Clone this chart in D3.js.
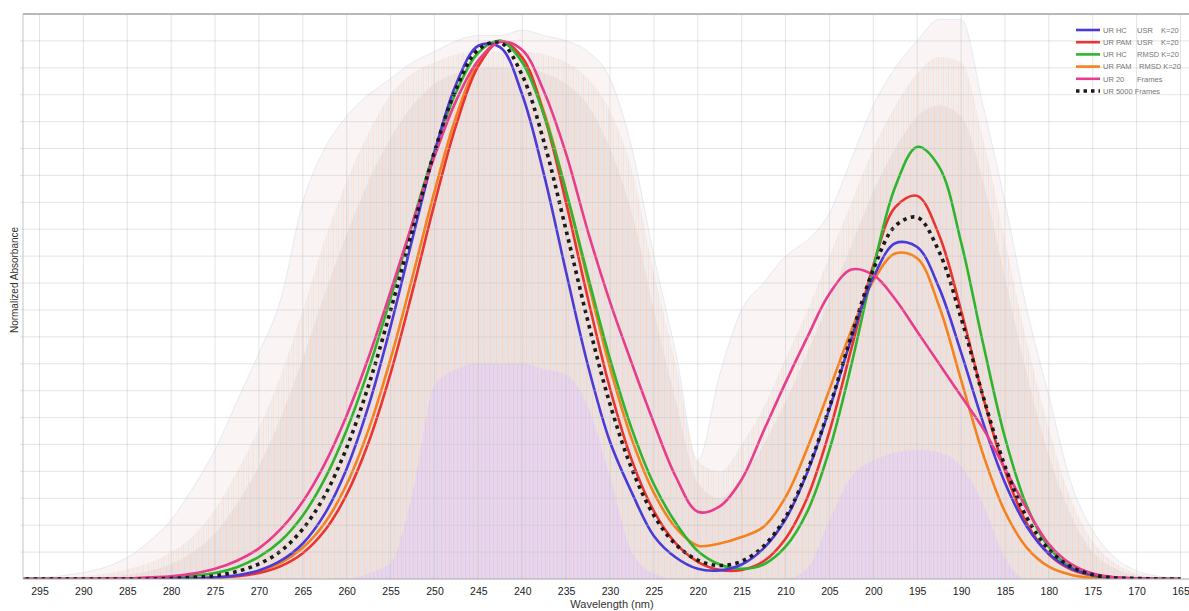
<!DOCTYPE html>
<html>
<head>
<meta charset="utf-8">
<script src="https://cdnjs.cloudflare.com/ajax/libs/d3/7.8.5/d3.min.js"></script>
<style>
body { margin: 0; background: #fff; }
text { font-family: Arial, "Liberation Sans", sans-serif; }
</style>
</head>
<body>
<div class="spectra"></div>
<script>
// wavelength grid (nm), every 2.5 nm
const wavelengths = [297.5, 295, 292.5, 290, 287.5, 285, 282.5, 280, 277.5, 275, 272.5, 270, 267.5, 265, 262.5, 260,
  257.5, 255, 252.5, 250, 247.5, 245, 242.5, 240, 237.5, 235, 232.5, 230, 227.5, 225, 222.5, 220, 217.5, 215, 212.5,
  210, 207.5, 205, 202.5, 200, 197.5, 195, 192.5, 190, 187.5, 185, 182.5, 180, 177.5, 175, 172.5, 170, 167.5, 165]

const urHcUsr = [0, 0, 0, 0, 0, 0, 0, 0.001, 0.001, 0.003, 0.007, 0.016, 0.034, 0.066, 0.121, 0.205, 0.322, 0.469, 0.633,
  0.793, 0.921, 0.991, 0.988, 0.90, 0.75, 0.57, 0.396, 0.255, 0.16, 0.08, 0.04, 0.019, 0.016, 0.027, 0.057, 0.111, 0.199,
  0.316, 0.447, 0.56, 0.624, 0.617, 0.541, 0.421, 0.291, 0.179, 0.097, 0.047, 0.020, 0.008, 0.003, 0.001, 0, 0]
const urPamUsr = [0, 0, 0, 0, 0, 0, 0, 0, 0.001, 0.002, 0.005, 0.011, 0.024, 0.048, 0.09, 0.157, 0.254, 0.382, 0.535,
  0.697, 0.845, 0.953, 0.999, 0.969, 0.861, 0.699, 0.52, 0.354, 0.22, 0.126, 0.066, 0.032, 0.017, 0.017, 0.033, 0.075,
  0.152, 0.274, 0.428, 0.583, 0.691, 0.712, 0.639, 0.499, 0.339, 0.201, 0.103, 0.046, 0.018, 0.006, 0.002, 0, 0, 0]
const urHcRmsd = [0, 0, 0, 0, 0, 0.001, 0.001, 0.003, 0.006, 0.011, 0.022, 0.041, 0.071, 0.118, 0.186, 0.277, 0.39, 0.522,
  0.662, 0.795, 0.906, 0.978, 1.0, 0.96, 0.861, 0.72, 0.562, 0.409, 0.278, 0.176, 0.104, 0.052, 0.027, 0.019, 0.027, 0.06,
  0.126, 0.24, 0.398, 0.577, 0.729, 0.803, 0.766, 0.626, 0.438, 0.263, 0.135, 0.059, 0.022, 0.007, 0.002, 0.001, 0, 0]
const urPamRmsd = [0, 0, 0, 0, 0, 0, 0, 0, 0.001, 0.003, 0.006, 0.014, 0.03, 0.058, 0.104, 0.176, 0.278, 0.409, 0.562,
  0.72, 0.861, 0.96, 1.0, 0.968, 0.867, 0.72, 0.553, 0.393, 0.259, 0.16, 0.095, 0.062, 0.066, 0.078, 0.097, 0.152, 0.244,
  0.352, 0.462, 0.554, 0.605, 0.596, 0.507, 0.37, 0.232, 0.125, 0.058, 0.023, 0.008, 0.002, 0.001, 0, 0, 0]
const ur20 = [0, 0, 0, 0, 0.001, 0.001, 0.003, 0.005, 0.01, 0.019, 0.034, 0.057, 0.093, 0.144, 0.214, 0.304, 0.412, 0.534,
  0.662, 0.785, 0.89, 0.964, 0.998, 0.983, 0.905, 0.79, 0.645, 0.515, 0.4, 0.29, 0.19, 0.125, 0.135, 0.185, 0.275, 0.365,
  0.45, 0.53, 0.575, 0.565, 0.52, 0.46, 0.40, 0.34, 0.28, 0.205, 0.13, 0.065, 0.028, 0.01, 0.003, 0.001, 0, 0]
const ur5000 = [0, 0, 0, 0, 0, 0, 0, 0.001, 0.003, 0.006, 0.014, 0.028, 0.052, 0.093, 0.155, 0.244, 0.36, 0.499, 0.649,
  0.794, 0.912, 0.984, 0.997, 0.936, 0.811, 0.648, 0.478, 0.325, 0.204, 0.118, 0.064, 0.035, 0.025, 0.033, 0.061, 0.115,
  0.202, 0.319, 0.452, 0.575, 0.656, 0.672, 0.608, 0.485, 0.34, 0.21, 0.114, 0.055, 0.023, 0.008, 0.002, 0.001, 0, 0]

// envelope of the 5000 single frames: faint outer edge, body and dense core
const framesOuter = [0, 0.002, 0.006, 0.012, 0.022, 0.04, 0.07, 0.11, 0.17, 0.24, 0.33, 0.42, 0.52, 0.7, 0.8, 0.86,
  0.9, 0.93, 0.96, 0.98, 1.0, 1.01, 1.01, 1.02, 1.01, 1.0, 0.98, 0.93, 0.8, 0.6, 0.42, 0.22, 0.38, 0.5, 0.55,
  0.6, 0.63, 0.68, 0.78, 0.88, 0.95, 1.0, 1.04, 1.04, 0.88, 0.7, 0.5, 0.34, 0.18, 0.09, 0.04, 0.015, 0.005, 0]
const framesBody = [0, 0, 0.002, 0.005, 0.01, 0.018, 0.03, 0.05, 0.08, 0.13, 0.2, 0.28, 0.38, 0.5, 0.63, 0.74,
  0.83, 0.9, 0.94, 0.96, 0.975, 0.98, 0.98, 0.98, 0.975, 0.96, 0.93, 0.87, 0.76, 0.57, 0.4, 0.22, 0.2, 0.25, 0.32,
  0.41, 0.5, 0.6, 0.7, 0.8, 0.88, 0.94, 0.97, 0.96, 0.82, 0.63, 0.44, 0.28, 0.15, 0.07, 0.03, 0.01, 0.003, 0]
const framesCore = [0, 0, 0, 0.002, 0.004, 0.008, 0.015, 0.028, 0.05, 0.085, 0.14, 0.21, 0.3, 0.41, 0.53, 0.64,
  0.74, 0.82, 0.88, 0.92, 0.94, 0.95, 0.95, 0.95, 0.94, 0.92, 0.88, 0.8, 0.68, 0.5, 0.33, 0.18, 0.15, 0.19, 0.25,
  0.33, 0.42, 0.52, 0.62, 0.72, 0.8, 0.86, 0.88, 0.86, 0.74, 0.56, 0.38, 0.23, 0.12, 0.05, 0.02, 0.006, 0.002, 0]
// top of the stick (transition) forest
const stickTops = [0, 0, 0, 0, 0, 0, 0, 0, 0, 0, 0, 0, 0, 0, 0, 0,
  0.01, 0.03, 0.16, 0.36, 0.39, 0.4, 0.4, 0.4, 0.39, 0.38, 0.32, 0.19, 0.05, 0.01, 0, 0, 0, 0, 0,
  0, 0.02, 0.11, 0.19, 0.22, 0.235, 0.24, 0.235, 0.21, 0.14, 0.04, 0, 0, 0, 0, 0, 0, 0, 0]

const tickLabels = [295, 290, 285, 280, 275, 270, 265, 260, 255, 250, 245, 240, 235, 230, 225, 220, 215, 210, 205,
  200, 195, 190, 185, 180, 175, 170, 165]
const gridLevels = [0.05, 0.1, 0.15, 0.2, 0.25, 0.3, 0.35, 0.4, 0.45, 0.5, 0.55, 0.6, 0.65, 0.7, 0.75, 0.8, 0.85, 0.9,
  0.95, 1.0]

const seriesNames = [["UR HC", "USR", "K=20"], ["UR PAM", "USR", "K=20"], ["UR HC", "RMSD K=20"],
  ["UR PAM", "RMSD K=20"], ["UR 20", "Frames"], ["UR 5000 Frames"]]
const seriesValues = [urHcUsr, urPamUsr, urHcRmsd, urPamRmsd, ur20, ur5000]
const seriesColours = ["#4a3ad8", "#ea3432", "#2fb42f", "#f4821f", "#e83c8c", "#1a1a1a"]

const W = 1189, H = 611
const plot = {left: 23, right: 1189, top: 14, bottom: 579}

const svg = d3.select(".spectra").append("svg").attr("width", W).attr("height", H)

const x = d3.scaleLinear().domain([295, 165]).range([39.5, 1180.5])
const y = d3.scaleLinear().domain([0, 1.05]).range([plot.bottom, plot.top])

const defs = svg.append("defs")
defs.append("clipPath").attr("id", "clip").append("rect")
    .attr("x", plot.left).attr("y", plot.top).attr("width", plot.right - plot.left).attr("height", plot.bottom - plot.top)

// stripe patterns so the fills read like a bundle of thin lines
function stripes(id, base, a, b, size) {
    const p = defs.append("pattern").attr("id", id).attr("patternUnits", "userSpaceOnUse")
        .attr("width", size).attr("height", size)
    p.append("rect").attr("width", size).attr("height", size).attr("fill", base)
    p.append("rect").attr("x", 1).attr("width", 1).attr("height", size).attr("fill", a)
    p.append("rect").attr("x", size - 2).attr("width", 1).attr("height", size).attr("fill", b)
}
stripes("bodyPat", "#f6ecea", "#e7ecf2", "#f8e2d8", 5)
stripes("corePat", "#eee0dc", "#dfe3eb", "#f3d7ca", 6)
stripes("stickPat", "#e6d2f0", "#d6c6f4", "#efcfe6", 4)

const table = (vals) => wavelengths.map((w, i) => ({w: w, v: vals[i]}))

const area = d3.area().x(d => x(d.w)).y0(y(0)).y1(d => y(d.v)).curve(d3.curveMonotoneX)
const line = d3.line().x(d => x(d.w)).y(d => y(d.v)).curve(d3.curveCatmullRom.alpha(0.5))

const body = svg.append("g").attr("clip-path", "url(#clip)")

// frame cloud
body.append("path").datum(table(framesOuter)).attr("d", area).attr("fill", "#faf5f4")
    .attr("stroke", "#dce6f0").attr("stroke-width", 0.8)
body.append("path").datum(table(framesBody)).attr("d", area).attr("fill", "url(#bodyPat)")
body.append("path").datum(table(framesCore)).attr("d", area).attr("fill", "url(#corePat)")
body.append("path").datum(table(stickTops)).attr("d", area).attr("fill", "url(#stickPat)").attr("opacity", 0.75)

// grid
body.selectAll(".vgrid").data(tickLabels).enter().append("line").attr("class", "vgrid")
    .attr("x1", d => x(d)).attr("x2", d => x(d)).attr("y1", plot.top).attr("y2", plot.bottom)
    .attr("stroke", "#c4c4c4").attr("stroke-opacity", 0.45)
svg.selectAll(".hgrid").data(gridLevels).enter().append("line").attr("class", "hgrid")
    .attr("x1", plot.left - 3).attr("x2", plot.right).attr("y1", d => y(d)).attr("y2", d => y(d))
    .attr("stroke", "#c4c4c4").attr("stroke-opacity", 0.45)

// axes frame
svg.append("line").attr("x1", plot.left).attr("x2", plot.right).attr("y1", plot.top).attr("y2", plot.top)
    .attr("stroke", "#b8b8b8").attr("stroke-width", 2)
svg.append("line").attr("x1", plot.left).attr("x2", plot.left).attr("y1", plot.top).attr("y2", plot.bottom)
    .attr("stroke", "#c4c4c4")
svg.append("line").attr("x1", plot.left).attr("x2", plot.right).attr("y1", plot.bottom).attr("y2", plot.bottom)
    .attr("stroke", "#a8a8a8")

// main spectra
const order = [3, 1, 2, 0, 4, 5]
order.forEach(i => {
    const p = body.append("path").datum(table(seriesValues[i])).attr("d", line).attr("fill", "none")
        .attr("stroke", seriesColours[i]).attr("stroke-width", 2.6)
    if (i == 5) p.attr("stroke-width", 3.6).attr("stroke-dasharray", "3.6 4.4")
})

// x axis
const xAxis = svg.append("g").attr("transform", `translate(0,${plot.bottom})`)
    .call(d3.axisBottom(x).tickValues(tickLabels).tickSize(0).tickPadding(9).tickFormat(d3.format("d")))
xAxis.select(".domain").remove()
xAxis.selectAll("text").attr("font-size", 10.5).attr("fill", "#222").attr("font-family", "Arial, Liberation Sans, sans-serif")

svg.append("text").attr("x", 612).attr("y", 608).attr("text-anchor", "middle")
    .attr("font-size", 11).attr("fill", "#333").text("Wavelength (nm)")
svg.append("text").attr("transform", "translate(18,280) rotate(-90)").attr("text-anchor", "middle")
    .attr("font-size", 10).attr("fill", "#333").text("Normalized Absorbance")

// legend
const legend = svg.selectAll(".legend").data(seriesNames).enter().append("g").attr("class", "legend")
    .attr("transform", (d, i) => `translate(1076,${30 + i * 12.2})`)
legend.append("line").attr("x1", 0).attr("x2", 24).attr("y1", 0).attr("y2", 0)
    .attr("stroke", (d, i) => seriesColours[i]).attr("stroke-width", (d, i) => i == 5 ? 3.5 : 2.6)
    .attr("stroke-dasharray", (d, i) => i == 5 ? "3.5 4" : null)
const cols = [[27, 61, 85], [27, 61, 85], [27, 61], [27, 63], [27, 61], [27]]
legend.each(function(d, i) {
    const g = d3.select(this)
    d.forEach((t, k) => {
        g.append("text").attr("x", cols[i][k]).attr("y", 2.8).attr("font-size", 7.5).attr("fill", "#777").text(t)
    })
})
</script>
</body>
</html>
